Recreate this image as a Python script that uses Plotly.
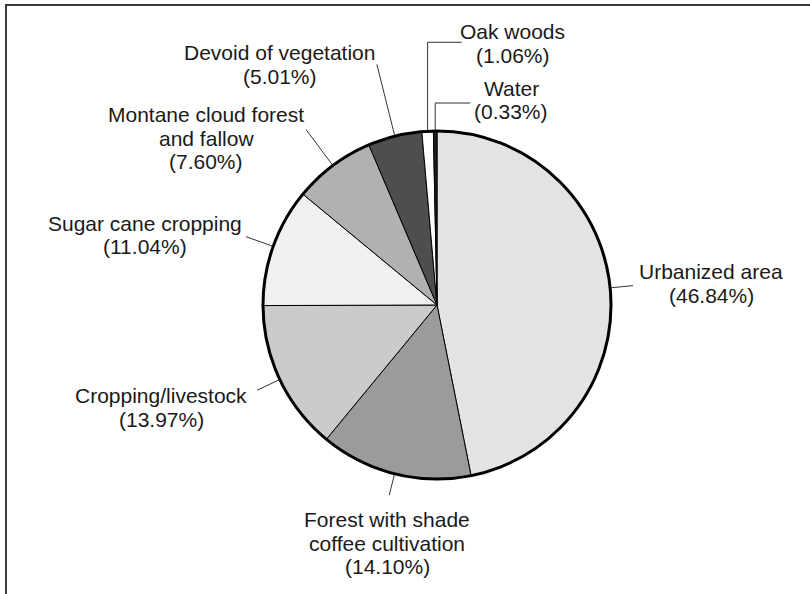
import math
import plotly.graph_objects as go

# ---------------- data ----------------
categories = ["Urbanized area", "Forest with shade coffee cultivation", "Cropping/livestock",
              "Sugar cane cropping", "Montane cloud forest and fallow", "Devoid of vegetation",
              "Oak woods", "Water"]
label_lines = [["Urbanized area"], ["Forest with shade", "coffee cultivation"], ["Cropping/livestock"],
               ["Sugar cane cropping"], ["Montane cloud forest", "and fallow"], ["Devoid of vegetation"],
               ["Oak woods"], ["Water"]]
percent = [46.84, 14.10, 13.97, 11.04, 7.60, 5.01, 1.06, 0.33]

# ---------------- style ----------------
colors = ["#e3e3e3", "#9b9b9b", "#cbcbcb", "#f0f0f0", "#b1b1b1", "#4e4e4e", "#ffffff", "#1e1e1e"]
W, H = 810, 594
CX, CY, R = 437, 305, 174
FONT = "Liberation Sans, Arial, Helvetica, sans-serif"
FS = 21
LS = 23.5
TXT = "#1a1a1a"
LEAD = "#333333"

# per-slice leader style: ("radial", length, dx, dy) or ("elbow", rise, run, dx, dy)
leaders = [
    ("radial", 23, 78, -2),
    ("radial", 22, -2, 48),
    ("radial", 25, -96, 17.5),
    ("radial", 29, -101, -1.5),
    ("radial", 45, -100, 9),
    ("radial", 74, -97, 0),
    ("elbow", 89, 34, 51, 1),
    ("elbow", 28, 35, 41, -3),
]


def px(x):
    return x / W


def py(y):
    return 1 - y / H


fig = go.Figure()
fig.add_trace(go.Pie(
    labels=categories, values=percent, sort=False, direction="clockwise", rotation=0,
    marker=dict(colors=colors, line=dict(color="black", width=1)),
    textinfo="none", hoverinfo="skip", showlegend=False,
    domain=dict(x=[px(CX - R), px(CX + R)], y=[py(CY + R), py(CY - R)]),
))

shapes = []
annotations = []
total = sum(percent)
cum = 0.0
for i, p in enumerate(percent):
    mid = (cum + p / 2) / total * 2 * math.pi
    cum += p
    ex, ey = CX + R * math.sin(mid), CY - R * math.cos(mid)
    spec = leaders[i]
    if spec[0] == "radial":
        _, L, dx, dy = spec
        ox, oy = ex + L * math.sin(mid), ey - L * math.cos(mid)
        shapes.append(dict(type="line", xref="paper", yref="paper", x0=px(ex), y0=py(ey),
                           x1=px(ox), y1=py(oy), line=dict(color=LEAD, width=1)))
    else:
        _, rise, run, dx, dy = spec
        ky = ey - rise
        ox, oy = ex + run, ky
        shapes.append(dict(type="path", xref="paper", yref="paper",
                           path=f"M {px(ex)} {py(ey)} L {px(ex)} {py(ky)} L {px(ox)} {py(oy)}",
                           line=dict(color=LEAD, width=1)))
    lines = label_lines[i] + [f"({p:.2f}%)"]
    n = len(lines)
    bx, by = ox + dx, oy + dy
    for j, t in enumerate(lines):
        ly = by + (j - (n - 1) / 2) * LS
        annotations.append(dict(text=t, x=px(bx), y=py(ly), xref="paper", yref="paper",
                                xanchor="center", yanchor="middle", showarrow=False,
                                font=dict(family=FONT, size=FS, color=TXT)))

# thick outer ring of the pie
shapes.append(dict(type="circle", xref="paper", yref="paper",
                   x0=px(CX - R), x1=px(CX + R), y0=py(CY + R), y1=py(CY - R),
                   line=dict(color="black", width=3)))
# frame lines (top and left)
shapes.append(dict(type="line", xref="paper", yref="paper", x0=px(5), x1=px(W), y0=py(5), y1=py(5),
                   line=dict(color="#3a3a3a", width=2)))
shapes.append(dict(type="line", xref="paper", yref="paper", x0=px(6), x1=px(6), y0=py(5), y1=py(H),
                   line=dict(color="#3a3a3a", width=2)))

fig.update_layout(width=W, height=H, margin=dict(l=0, r=0, t=0, b=0),
                  paper_bgcolor="white", plot_bgcolor="white",
                  shapes=shapes, annotations=annotations)
fig.write_html("out.html")
